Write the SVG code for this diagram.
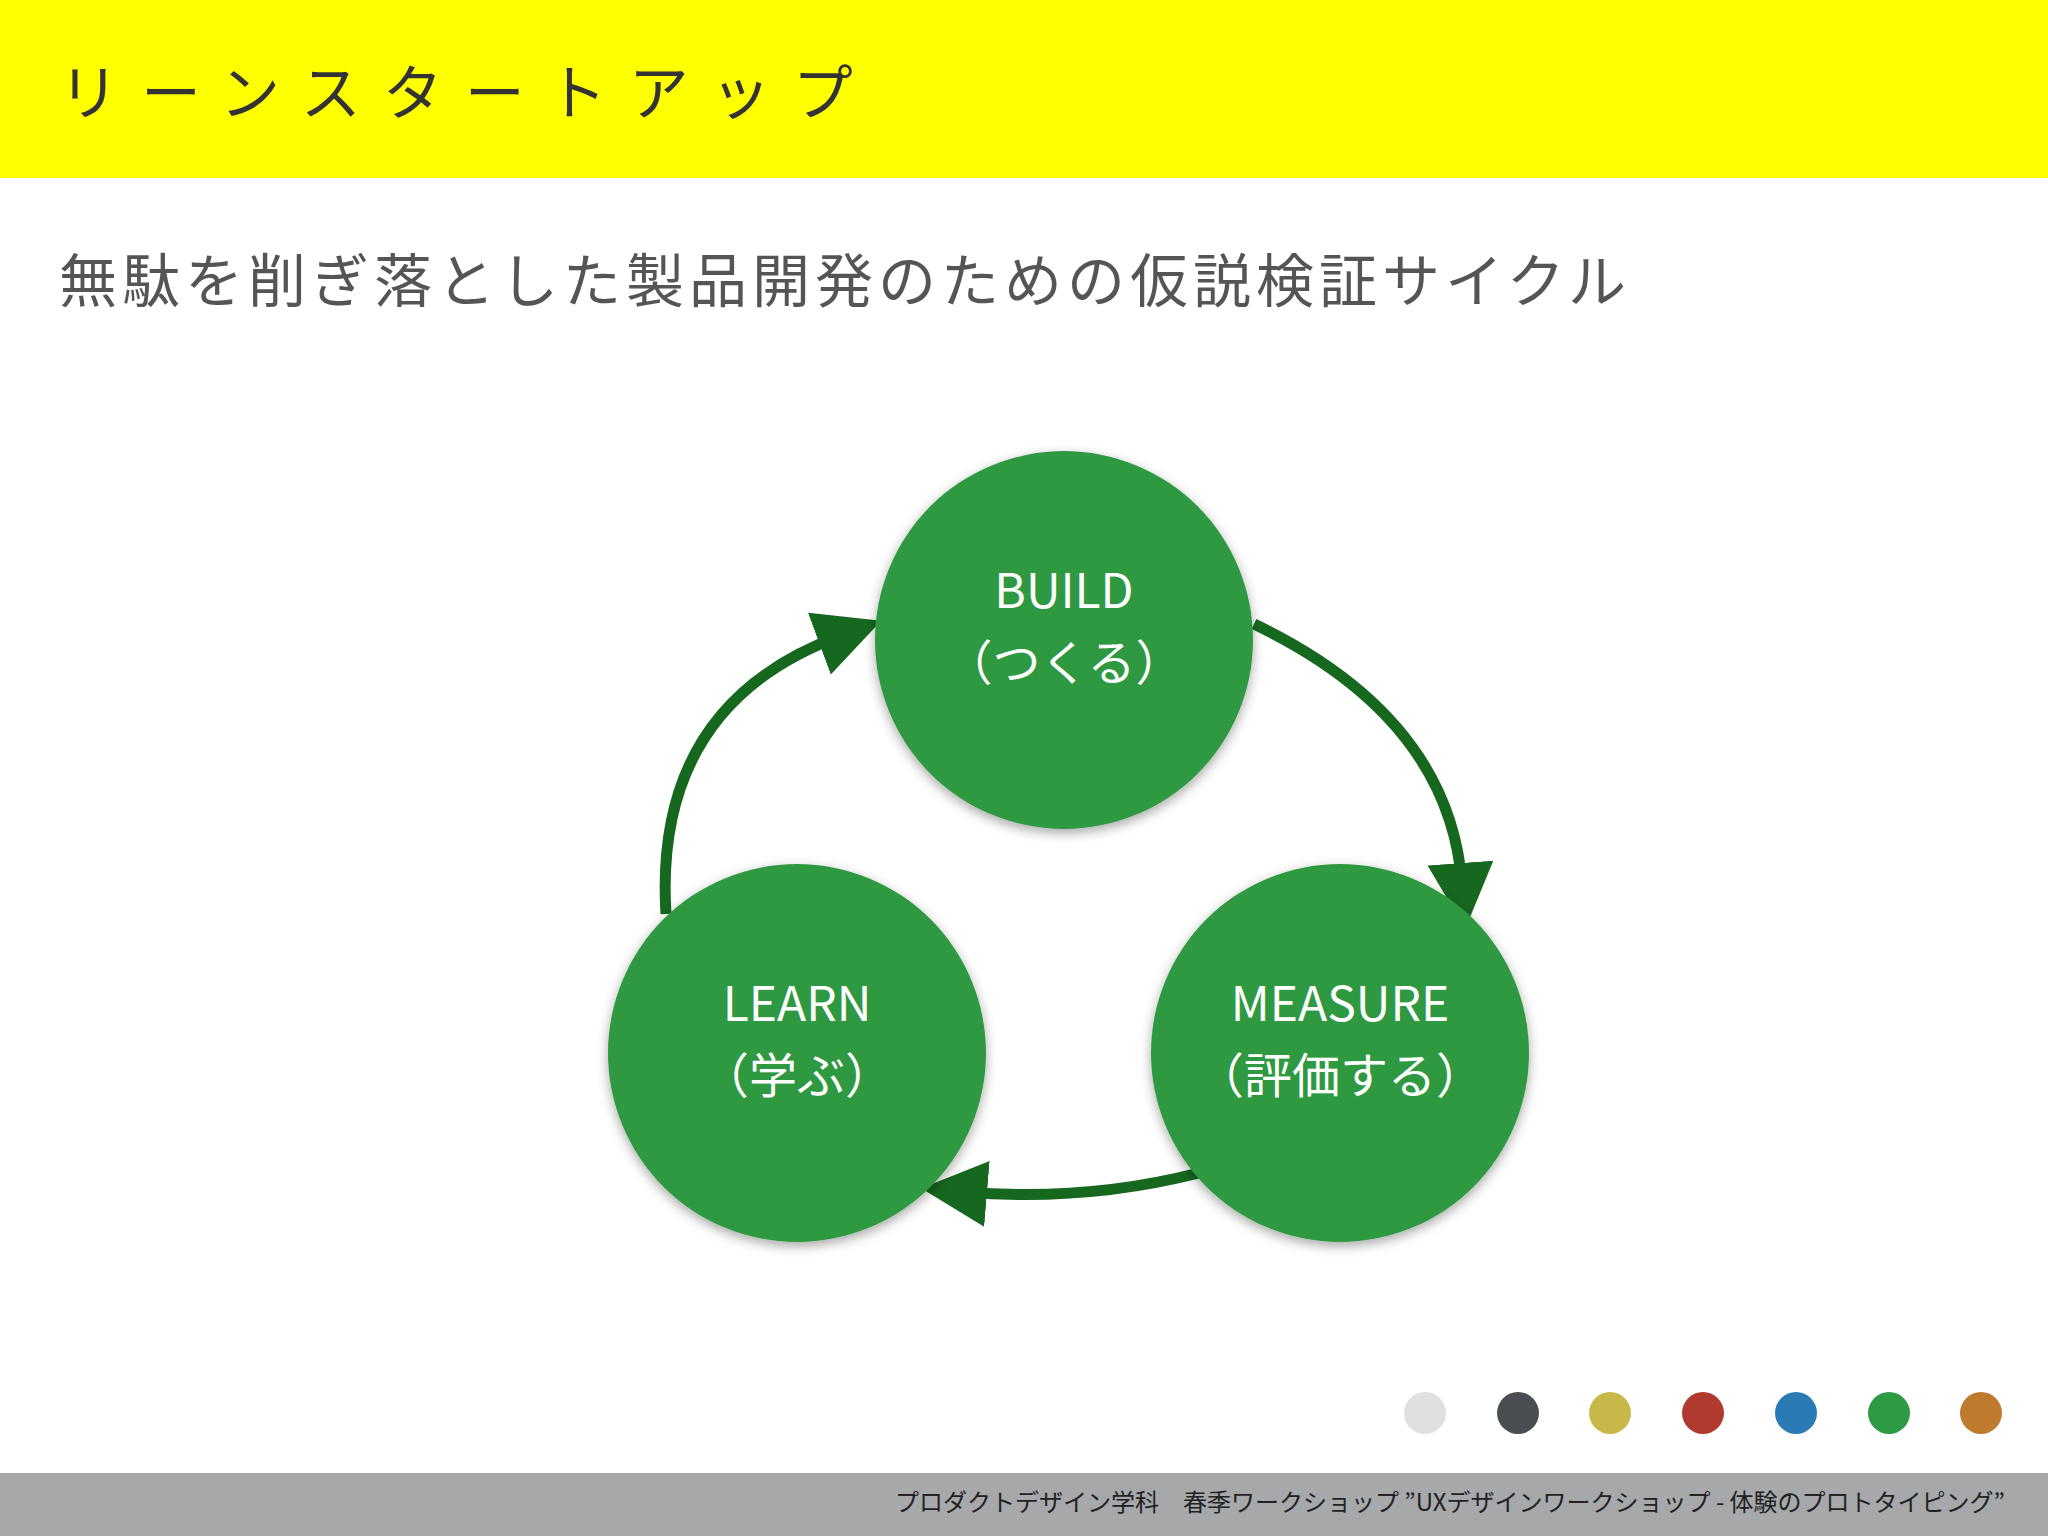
<svg xmlns="http://www.w3.org/2000/svg" width="2048" height="1536" viewBox="0 0 2048 1536">
<defs>
<style>
.jp{font-family:"Noto Sans CJK JP","Noto Sans",sans-serif;}
.node circle{fill:#2f9941;filter:url(#sh);}
.node text{fill:#fff;font-size:48px;text-anchor:middle;font-family:"Noto Sans CJK JP","Noto Sans",sans-serif;}
.con path{fill:none;stroke:#17681f;stroke-width:11;marker-end:url(#ah);}
</style>
<filter id="sh" x="-20%" y="-20%" width="140%" height="140%"><feDropShadow dx="0" dy="4" stdDeviation="6" flood-color="#000" flood-opacity="0.35"/></filter>
<marker id="ah" markerWidth="6" markerHeight="6" refX="2" refY="3" orient="auto" markerUnits="strokeWidth"><path d="M0,0 L6,3 L0,6 Z" fill="#17681f"/></marker>
</defs>
<rect width="2048" height="1536" fill="#fff"/>
<rect width="2048" height="178" fill="#ffff00"/>
<text class="jp" x="59" y="115" font-size="60" letter-spacing="22" fill="#333">リーンスタートアップ</text>
<text class="jp" x="59" y="302" font-size="58" letter-spacing="5" fill="#555">無駄を削ぎ落とした製品開発のための仮説検証サイクル</text>
<g class="con" id="connectors">
<path d="M666,914 Q653,705 840,636"/>
<path d="M1254,624 Q1450,718 1462,885"/>
<path d="M1199,1173 Q1084,1202 965,1192"/>
</g>
<g class="node" id="build"><circle cx="1064" cy="640" r="189"/><text x="1064" y="608">BUILD</text><text x="1064" y="680">（つくる）</text></g>
<g class="node" id="learn"><circle cx="797" cy="1053" r="189"/><text x="797" y="1021">LEARN</text><text x="797" y="1093">（学ぶ）</text></g>
<g class="node" id="measure"><circle cx="1340" cy="1053" r="189"/><text x="1340" y="1021">MEASURE</text><text x="1340" y="1093">（評価する）</text></g>
<g id="dots">
<circle cx="1425" cy="1413" r="21" fill="#e0e0e0"/>
<circle cx="1518" cy="1413" r="21" fill="#4a4d52"/>
<circle cx="1610" cy="1413" r="21" fill="#c8b84a"/>
<circle cx="1703" cy="1413" r="21" fill="#b03a2e"/>
<circle cx="1796" cy="1413" r="21" fill="#2a7ab5"/>
<circle cx="1889" cy="1413" r="21" fill="#2e9a44"/>
<circle cx="1981" cy="1413" r="21" fill="#c07a2e"/>
</g>
<rect y="1473" width="2048" height="63" fill="#a6a8aa"/>
<text class="jp" x="2005" y="1511" font-size="24" text-anchor="end" fill="#222">プロダクトデザイン学科　春季ワークショップ ”UXデザインワークショップ - 体験のプロトタイピング”</text>
</svg>
